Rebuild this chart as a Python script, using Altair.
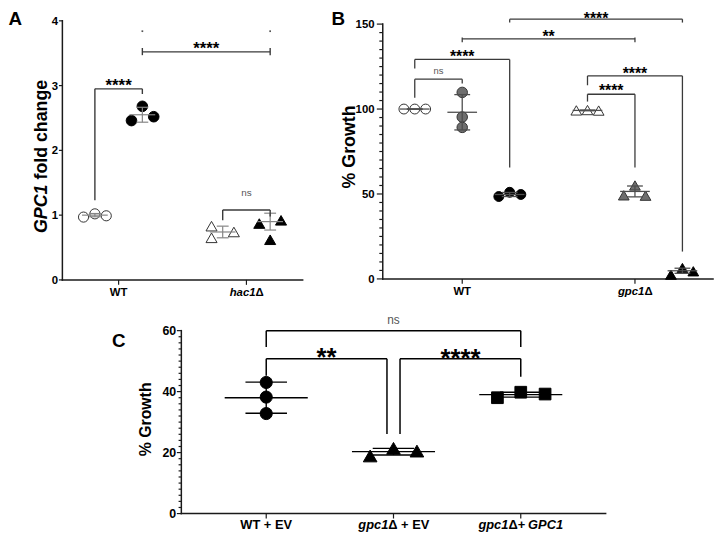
import altair as alt
import pandas as pd

# ------------------------------------------------------------------ data
# Panel A : GPC1 fold change
A_categories = ["WT", "hac1Δ"]
A_groups = ["WT control", "WT treated", "hac1Δ control", "hac1Δ treated"]
A_group_category = [1, 1, 2, 2]
A_values = [
    [0.97, 1.02, 0.99],
    [2.46, 2.68, 2.52],
    [0.83, 0.65, 0.74],
    [0.87, 0.62, 0.92],
]
A_means = [1.00, 2.55, 0.74, 0.90]
A_sds = [0.025, 0.115, 0.09, 0.13]
A_yticks = [0, 1, 2, 3, 4]
A_ytitle = [("GPC1", True), (" fold change", False)]
A_xlabels = [[("WT", False)], [("hac1", True), ("Δ", False)]]
# (left group, right group, left end, top, right end, label, label centre)
A_brackets = [
    (0, 1, 1.23, 2.95, 2.87, "****", 3.07),
    (1, 3, 3.47, 3.52, 3.47, "****", 3.64),
    (2, 3, 0.92, 1.08, 0.98, "ns", 1.34),
]
A_dots = [(1, 3.84), (3, 3.84)]

# Panel B : % growth
B_categories = ["WT", "gpc1Δ"]
B_groups = ["WT 1", "WT 2", "WT 3", "gpc1Δ 1", "gpc1Δ 2", "gpc1Δ 3"]
B_group_category = [1, 1, 1, 2, 2, 2]
B_values = [
    [100.0, 100.0, 100.0],
    [109.8, 95.3, 89.2],
    [48.5, 51.0, 49.7],
    [99.2, 99.4, 99.1],
    [49.2, 55.0, 49.0],
    [2.5, 6.4, 4.5],
]
B_means = [100.0, 98.1, 49.7, 99.2, 51.5, 4.8]
B_sds = [0.0, 10.4, 1.2, 0.2, 3.2, 1.5]
B_yticks = [0, 50, 100, 150]
B_minor_yticks = list(range(0, 151, 5))
B_ytitle = [("% Growth", False)]
B_xlabels = [[("WT", False)], [("gpc1", True), ("Δ", False)]]
B_brackets = [
    (2, 5, 150.9, 152.9, 150.9, "****", 155.4),
    (1, 4, 139.3, 141.3, 139.3, "**", 145.1),
    (0, 2, 123.8, 129.2, 65.6, "****", 133.1),
    (0, 1, 106.7, 117.6, 115.0, "ns", 122.2),
    (3, 4, 104.4, 108.7, 65.6, "****", 113.1),
    (3, 5, 114.0, 119.5, 16.1, "****", 122.8),
]

# Panel C : % growth, complementation
C_categories = ["WT + EV", "gpc1Δ + EV", "gpc1Δ+ GPC1"]
C_group_category = [1, 2, 3]
C_values = [
    [43.0, 38.2, 32.8],
    [18.9, 21.4, 20.5],
    [38.0, 39.8, 39.2],
]
C_means = [38.0, 20.3, 39.0]
C_sds = [5.1, 1.1, 0.8]
C_yticks = [0, 20, 40, 60]
C_minor_yticks = list(range(0, 61, 2))
C_ytitle = [("% Growth", False)]
C_xlabels = [
    [("WT + EV", False)],
    [("gpc1", True), ("Δ + EV", False)],
    [("gpc1", True), ("Δ+ ", False), ("GPC1", True)],
]
C_brackets = [
    (0, 2, 54.6, 60.0, 54.6, "ns", 63.2),
    (0, 1, 45.2, 50.8, 26.1, "**", 53.2),
    (1, 2, 26.1, 50.8, 44.9, "****", 53.0),
]

# ------------------------------------------------------------------ style / layout
FONT = "Liberation Sans"
CHART_W, CHART_H = 716, 528
AX_COLOR = "#1a1a1a"

CW = {" ": 0.278, "%": 0.889, "*": 0.389, "+": 0.584, "0": 0.556, "1": 0.556,
      "2": 0.556, "3": 0.556, "4": 0.556, "5": 0.556, "6": 0.556,
      "C": 0.722, "E": 0.667, "G": 0.778, "P": 0.667, "T": 0.611, "V": 0.667,
      "W": 0.944, "a": 0.556, "c": 0.556, "d": 0.611, "e": 0.556, "f": 0.333,
      "g": 0.611, "h": 0.611, "l": 0.278, "n": 0.611, "o": 0.611, "p": 0.611,
      "r": 0.389, "s": 0.556, "t": 0.333, "w": 0.778, "Δ": 0.668}


def text_w(s, fs):
    return sum(CW.get(ch, 0.6) for ch in s) * fs


def layout_pieces(pieces, fs):
    total = sum(text_w(t, fs) for t, _ in pieces)
    cur = -total / 2
    out = []
    for t, it in pieces:
        lead = len(t) - len(t.lstrip(" "))
        s = t.strip(" ")
        if s:
            out.append((s, it, cur + text_w(" " * lead, fs)))
        cur += text_w(t, fs)
    return out


PANEL_A = dict(
    cats=A_categories, gcat=A_group_category, values=A_values, means=A_means, sds=A_sds,
    yticks=A_yticks, yminor=[], ytitle=A_ytitle, xlabels=A_xlabels, brackets=A_brackets,
    dots=A_dots,
    xdom=[0.56, 2.44], xr=[55, 298], ydom=[0, 4], yr=[272, 10], yaxis_top=4,
    goff=[-24, 24, -24, 24],
    jitter=[[-11.5, 0, 11.5], [-11, 0, 11.5], [-11.3, -11.3, 11.3], [-11, 0, 11]],
    shape=["circle", "circle", "triangle-up", "triangle-up"],
    fill=["white", "black", "white", "black"],
    stroke=["#333333", "black", "#333333", "black"],
    msize=[105, 115, 125, 125],
    mean_hw=13, cap_hw=6, err_color="#858585", err_w=1.2,
    ytick_len=3.5, yminor_len=0, ylab_gap=0.8, ylab_fs=11.5,
    xtick_len=5, xlab_fs=11.5, xlab_dy=16.3,
    title_fs=18, title_x=39, title_y=147,
    br_color="#3a3a3a", br_w=1.4, star_fs=17, ns_fs=10, br_over={1: 4},
    letter="A", letter_x=0.5, letter_y=14.5, letter_align="left",
)

PANEL_B = dict(
    cats=B_categories, gcat=B_group_category, values=B_values, means=B_means, sds=B_sds,
    yticks=B_yticks, yminor=B_minor_yticks, ytitle=B_ytitle, xlabels=B_xlabels,
    brackets=B_brackets, dots=[],
    xdom=[0.54, 2.452], xr=[379, 713], ydom=[0, 150], yr=[271, 13.3], yaxis_top=150,
    goff=[-48, 0, 48, -48, 0, 48],
    jitter=[[-11, 0, 11], [0, 0, 0], [-11, 0, 11.3], [-11.3, 0, 11.3],
            [-11.3, 0, 10.7], [-11.6, 0, 11]],
    shape=["circle"] * 3 + ["triangle-up"] * 3,
    fill=["white", "#6e6e6e", "black"] * 2,
    stroke=["#333333", "#333333", "black"] * 2,
    msize=[100, 112, 100, 118, 118, 118],
    mean_hw=15, cap_hw=8, err_color="#4d4d4d", err_w=1.3,
    ytick_len=6, yminor_len=3.5, ylab_gap=2.3, ylab_fs=11.5,
    xtick_len=5, xlab_fs=11.5, xlab_dy=16.3,
    title_fs=18, title_x=351, title_y=137.5,
    br_color="#3a3a3a", br_w=1.3, star_fs=16, ns_fs=9.5, br_over={1: 1.5},
    letter="B", letter_x=334, letter_y=14.5, letter_align="center",
)

PANEL_C = dict(
    cats=C_categories, gcat=C_group_category, values=C_values, means=C_means, sds=C_sds,
    yticks=C_yticks, yminor=C_minor_yticks, ytitle=C_ytitle, xlabels=C_xlabels,
    brackets=C_brackets, dots=[],
    xdom=[0.333, 3.667], xr=[175.3, 604.4], ydom=[0, 60], yr=[508.3, 323.3], yaxis_top=60,
    goff=[0, 0, 0],
    jitter=[[0, 0, 0], [-23.6, 0, 23.7], [-23.6, 0, 24.6]],
    shape=["circle", "triangle-up", "square"],
    fill=["black", "black", "black"],
    stroke=["black", "black", "black"],
    msize=[150, 190, 140],
    mean_hw=42, cap_hw=21, err_color="black", err_w=1.4,
    ytick_len=4.5, yminor_len=2.8, ylab_gap=0.7, ylab_fs=12.5,
    xtick_len=5, xlab_fs=13, xlab_dy=16,
    title_fs=16, title_x=145, title_y=413,
    br_color="black", br_w=1.5, star_fs=26, ns_fs=12, br_over={},
    br_nudge={1: (0, -6.6), 2: (6.6, 0)},
    letter="C", letter_x=112, letter_y=339.8, letter_align="center",
)


def build_panel(P):
    x0, x1 = P["xdom"]
    r0, r1 = P["xr"]
    y0, y1 = P["ydom"]
    s0, s1 = P["yr"]
    ux = (x1 - x0) / (r1 - r0)
    uy = (y1 - y0) / (s0 - s1)
    xs = alt.Scale(domain=[x0, x1], range=[r0, r1], nice=False, zero=False)
    ys = alt.Scale(domain=[y0, y1], range=[s0, s1], nice=False, zero=False)

    def XQ():
        return alt.X("x:Q", scale=xs, axis=None)

    def YQ():
        return alt.Y("y:Q", scale=ys, axis=None)

    def rules(rows, **mk):
        return alt.Chart(pd.DataFrame(rows)).mark_rule(**mk).encode(
            x=XQ(), x2="x2", y=YQ(), y2="y2")

    def texts(rows, **mk):
        return alt.Chart(pd.DataFrame(rows)).mark_text(font=FONT, **mk).encode(
            x=XQ(), y=YQ(), text="text:N")

    layers = []
    n = len(P["values"])
    gx = [c + o * ux for c, o in zip(P["gcat"], P["goff"])]
    cats_x = list(range(1, len(P["cats"]) + 1))

    # axis lines
    layers.append(rules([
        dict(x=x0, x2=x0, y=y0, y2=P["yaxis_top"]),
        dict(x=x0, x2=x1, y=y0, y2=y0),
    ], color=AX_COLOR, strokeWidth=1.5, strokeCap="square"))

    # ticks
    trows = []
    for t in P["yticks"]:
        trows.append(dict(x=x0, x2=x0 - P["ytick_len"] * ux, y=t, y2=t))
    for t in P["yminor"]:
        if t not in P["yticks"]:
            trows.append(dict(x=x0, x2=x0 - P["yminor_len"] * ux, y=t, y2=t))
    for c in cats_x:
        trows.append(dict(x=c, x2=c, y=y0, y2=y0 - P["xtick_len"] * uy))
    layers.append(rules(trows, color=AX_COLOR, strokeWidth=1.2))

    # y tick labels
    fs = P["ylab_fs"]
    layers.append(texts(
        [dict(x=x0 - (P["ytick_len"] + P["ylab_gap"]) * ux, y=t, text=str(t)) for t in P["yticks"]],
        align="right", baseline="alphabetic", dy=0.36 * fs, fontSize=fs,
        fontWeight="bold", color="black"))

    # x tick labels (pieces so that gene names can be italic)
    fs = P["xlab_fs"]
    norm, ital = [], []
    for c, pieces in zip(cats_x, P["xlabels"]):
        for s, it, off in layout_pieces(pieces, fs):
            (ital if it else norm).append(dict(x=c + off * ux, y=y0, text=s))
    for rows, style in ((norm, "normal"), (ital, "italic")):
        if rows:
            layers.append(texts(rows, align="left", baseline="alphabetic", dy=P["xlab_dy"],
                                fontSize=fs, fontWeight="bold", fontStyle=style, color="black"))

    # y title (rotated)
    fs = P["title_fs"]
    tx = x0 + (P["title_x"] - r0) * ux
    tyc = y0 + (s0 - P["title_y"]) * uy
    norm, ital = [], []
    for s, it, off in layout_pieces(P["ytitle"], fs):
        (ital if it else norm).append(dict(x=tx, y=tyc + off * uy, text=s))
    for rows, style in ((norm, "normal"), (ital, "italic")):
        if rows:
            layers.append(texts(rows, align="left", baseline="alphabetic", angle=270,
                                fontSize=fs, fontWeight="bold", fontStyle=style, color="black"))

    # points
    prow = []
    for g, vals in enumerate(P["values"]):
        for v, j in zip(vals, P["jitter"][g]):
            prow.append(dict(x=gx[g] + j * ux, y=v, shape=P["shape"][g], fill=P["fill"][g],
                             stroke=P["stroke"][g], size=P["msize"][g]))
    layers.append(alt.Chart(pd.DataFrame(prow)).mark_point(
        filled=True, opacity=1, strokeWidth=1).encode(
        x=XQ(), y=YQ(),
        shape=alt.Shape("shape:N", scale=None),
        fill=alt.Fill("fill:N", scale=None),
        stroke=alt.Stroke("stroke:N", scale=None),
        size=alt.Size("size:Q", scale=None)))

    # mean +/- SD
    erows = []
    for g in range(n):
        m, sd, cx = P["means"][g], P["sds"][g], gx[g]
        erows.append(dict(x=cx, x2=cx, y=m - sd, y2=m + sd))
        for yv in (m - sd, m + sd):
            erows.append(dict(x=cx - P["cap_hw"] * ux, x2=cx + P["cap_hw"] * ux, y=yv, y2=yv))
        erows.append(dict(x=cx - P["mean_hw"] * ux, x2=cx + P["mean_hw"] * ux, y=m, y2=m))
    layers.append(rules(erows, color=P["err_color"], strokeWidth=P["err_w"]))

    # significance brackets
    brow, stars, nss = [], [], []
    for k, (gl, gr, yl, yt, yr_, lab, ly) in enumerate(P["brackets"]):
        nl, nr = P.get("br_nudge", {}).get(k, (0, 0))
        xl, xr_ = gx[gl] + nl * ux, gx[gr] + nr * ux
        over = P["br_over"].get(k, 0) * uy
        brow += [dict(x=xl, x2=xl, y=yl, y2=yt + over),
                 dict(x=xl, x2=xr_, y=yt, y2=yt),
                 dict(x=xr_, x2=xr_, y=yt + over, y2=yr_)]
        row = dict(x=(xl + xr_) / 2, y=ly, text=lab)
        (nss if lab == "ns" else stars).append(row)
    layers.append(rules(brow, color=P["br_color"], strokeWidth=P["br_w"]))
    if stars:
        fs = P["star_fs"]
        layers.append(texts(stars, align="center", baseline="alphabetic", dy=0.58 * fs,
                            fontSize=fs, fontWeight="bold", color="black"))
    if nss:
        fs = P["ns_fs"]
        layers.append(texts(nss, align="center", baseline="alphabetic", dy=0.26 * fs,
                            fontSize=fs, color="#555555"))
    if P["dots"]:
        layers.append(alt.Chart(pd.DataFrame(
            [dict(x=gx[g], y=v) for g, v in P["dots"]])).mark_point(
            shape="square", size=3, filled=True, opacity=1, color="#555555").encode(
            x=XQ(), y=YQ()))

    # panel letter
    layers.append(alt.Chart(pd.DataFrame({"text": [P["letter"]]})).mark_text(
        font=FONT, fontSize=19, fontWeight="bold", color="black",
        align=P["letter_align"], baseline="alphabetic",
        x=P["letter_x"], y=P["letter_y"]).encode(text="text:N"))
    return layers


layers = build_panel(PANEL_A) + build_panel(PANEL_B) + build_panel(PANEL_C)

chart = alt.layer(*layers).resolve_scale(
    x="independent", y="independent"
).properties(
    width=CHART_W, height=CHART_H, padding=0,
    autosize=alt.AutoSizeParams(type="none"),
).configure_view(stroke="transparent")

chart.save("out.html", embed_options={"renderer": "svg", "actions": False})
